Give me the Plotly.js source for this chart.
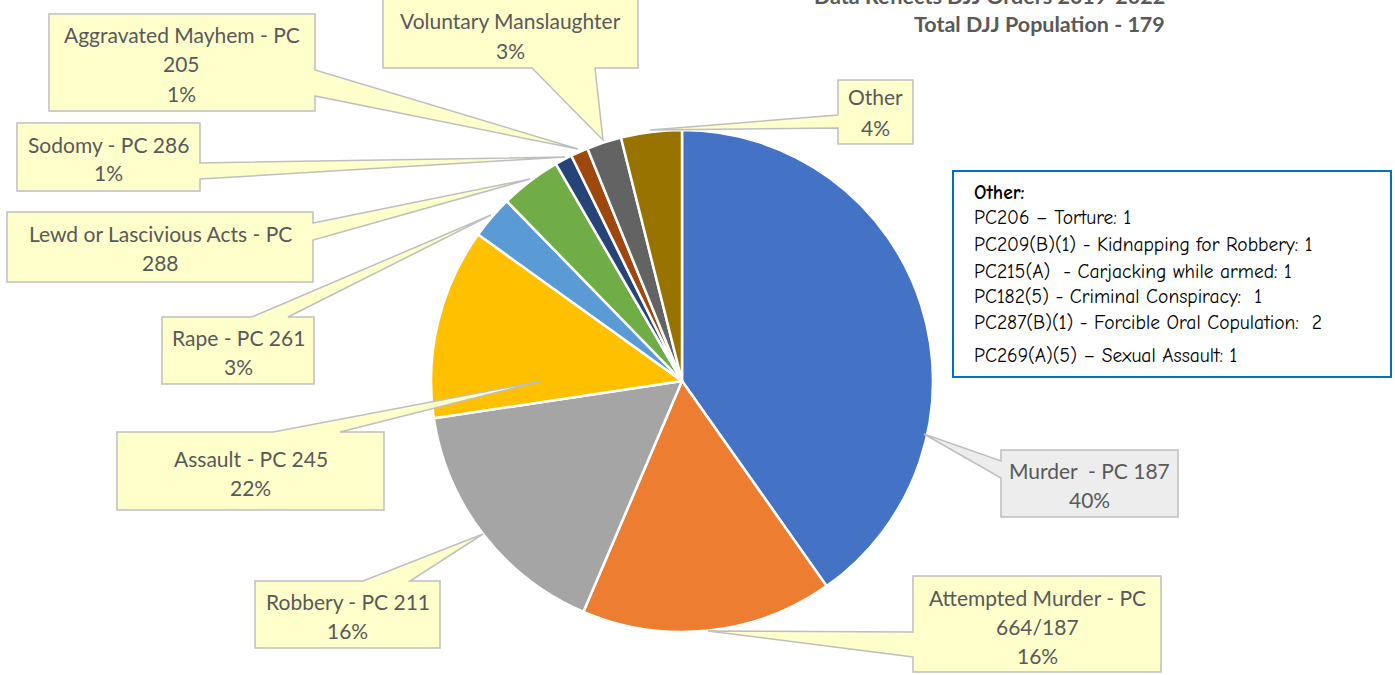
<!DOCTYPE html>
<html>
<head>
<meta charset="utf-8">
<script src="https://cdn.plot.ly/plotly-3.0.1.min.js"></script>
<style>html,body{margin:0;padding:0;background:#fff;}#chart{width:1395px;height:675px;}</style>
</head>
<body>
<div id="chart"></div>
<script>
// ---- data ----
const categories = ["Murder - PC 187", "Attempted Murder - PC 664/187", "Robbery - PC 211", "Assault - PC 245",
  "Rape - PC 261", "Lewd or Lascivious Acts - PC 288", "Sodomy - PC 286", "Aggravated Mayhem - PC 205",
  "Voluntary Manslaughter", "Other"];
const counts = [72, 29, 29, 22, 5, 7, 2, 2, 4, 7];
const sliceColors = ["#4472C4", "#ED7D31", "#A5A5A5", "#FFC000", "#5B9BD5", "#70AD47", "#264478", "#9E480E", "#636363", "#997300"];
const labelLines = [
  ["Murder  - PC 187", "40%"],
  ["Attempted Murder - PC", "664/187", "16%"],
  ["Robbery - PC 211", "16%"],
  ["Assault - PC 245", "22%"],
  ["Rape - PC 261", "3%"],
  ["Lewd or Lascivious Acts - PC", "288"],
  ["Sodomy - PC 286", "1%"],
  ["Aggravated Mayhem - PC", "205", "1%"],
  ["Voluntary Manslaughter", "3%"],
  ["Other", "4%"]
];
const titleLines = ["Data Reflects DJJ Orders 2019-2022", "Total DJJ Population - 179"];
const otherTitle = "Other:";
const otherItems = [
  "PC206 \u2013 Torture: 1",
  "PC209(B)(1) - Kidnapping for Robbery: 1",
  "PC215(A)  - Carjacking while armed: 1",
  "PC182(5) - Criminal Conspiracy:  1",
  "PC287(B)(1) - Forcible Oral Copulation:  2",
  "PC269(A)(5) \u2013 Sexual Assault: 1"
];

// ---- layout helpers (pixel -> paper) ----
const W = 1395, H = 675;
const px = x => x / W;
const py = y => 1 - y / H;
const cx = 682, cy = 381, R = 251;

// callout geometry (layout only)
const callouts = [
  {box:[1001,450,1178,517], side:"left",  base:[461,478], tip:[924,434], fill:"#EDEDED", ys:[470,499]},
  {box:[913,576,1161,672],  side:"left",  base:[632,657], tip:[708,631], fill:"#FFFFCC", ys:[597,626,655]},
  {box:[255,581,440,648],   side:"top",   base:[363,410], tip:[483,534], fill:"#FFFFCC", ys:[601,630]},
  {box:[117,432,384,510],   side:"top",   base:[273,340], tip:[542,381], fill:"#FFFFCC", ys:[458,487]},
  {box:[162,317,314,384],   side:"top",   base:[252,288], tip:[491,215], fill:"#FFFFCC", ys:[337,366]},
  {box:[7,212,313,282],     side:"right", base:[223,240], tip:[530,179], fill:"#FFFFCC", ys:[233,262]},
  {box:[17,123,200,191],    side:"right", base:[163,179], tip:[565,157], fill:"#FFFFCC", ys:[144,172]},
  {box:[49,14,315,111],     side:"right", base:[70,96],   tip:[578,149], fill:"#FFFFCC", ys:[35,64,93]},
  {box:[383,-1,638,68],     side:"bottom",base:[532,595], tip:[603,140], fill:"#FFFFCC", ys:[21,50]},
  {box:[838,80,913,144],    side:"left",  base:[115,128], tip:[650,130], fill:"#FFFFCC", ys:[97,127]}
];

function calloutPath(c) {
  const [x0,y0,x1,y1] = c.box, [b0,b1] = c.base, [tx,ty] = c.tip;
  let pts;
  if (c.side === "right") pts = [[x0,y0],[x1,y0],[x1,b0],[tx,ty],[x1,b1],[x1,y1],[x0,y1]];
  else if (c.side === "left") pts = [[x0,y0],[x1,y0],[x1,y1],[x0,y1],[x0,b1],[tx,ty],[x0,b0]];
  else if (c.side === "top") pts = [[x0,y0],[b0,y0],[tx,ty],[b1,y0],[x1,y0],[x1,y1],[x0,y1]];
  else pts = [[x0,y0],[x1,y0],[x1,y1],[b1,y1],[tx,ty],[b0,y1],[x0,y1]];
  return pts.map((p,i) => (i ? "L" : "M") + px(p[0]).toFixed(5) + "," + py(p[1]).toFixed(5)).join(" ") + " Z";
}

const shapes = [];
const annotations = [];
const labelFont = {family: "Lato, 'Liberation Sans', sans-serif", size: 21, color: "#595959"};

callouts.forEach((c, i) => {
  shapes.push({type:"path", xref:"paper", yref:"paper", path: calloutPath(c), fillcolor:c.fill,
    line:{color:"#BFBFBF", width:1.5}, layer:"above"});
  const mx = (c.box[0] + c.box[2]) / 2;
  labelLines[i].forEach((t, k) => {
    annotations.push({xref:"paper", yref:"paper", x:px(mx), y:py(c.ys[k]), text:t, showarrow:false,
      xanchor:"center", yanchor:"middle", font:labelFont});
  });
});

// title lines
const titleYs = [-4, 24];
titleLines.forEach((t, k) => {
  annotations.push({xref:"paper", yref:"paper", x:px(1167), y:py(titleYs[k]), text:"<b>"+t+"</b>", showarrow:false,
    xanchor:"right", yanchor:"middle", font:{family:"Lato, sans-serif", size:21.5, color:"#595959"}});
});

// "Other" breakdown box
shapes.push({type:"rect", xref:"paper", yref:"paper", x0:px(953), x1:px(1391), y0:py(171), y1:py(377),
  fillcolor:"#FFFFFF", line:{color:"#0070C0", width:2}, layer:"above"});
const boxFont = {family:"'Comic Sans MS', 'Comic Neue', Lato, sans-serif", size:19.5, color:"#000000"};
annotations.push({xref:"paper", yref:"paper", x:px(972), y:py(192), text:"<b>"+otherTitle+"</b>", showarrow:false,
  xanchor:"left", yanchor:"middle", font:boxFont});
const otherYs = [218, 245, 271, 296, 322, 355];
otherItems.forEach((t, k) => {
  annotations.push({xref:"paper", yref:"paper", x:px(972), y:py(otherYs[k]), text:t, showarrow:false,
    xanchor:"left", yanchor:"middle", font:boxFont});
});

const trace = {
  type: "pie",
  labels: categories,
  values: counts,
  sort: false,
  direction: "clockwise",
  rotation: 0,
  textinfo: "none",
  hoverinfo: "label+value+percent",
  marker: {colors: sliceColors, line: {color: "#FFFFFF", width: 2.5}},
  domain: {x: [px(cx - R), px(cx + R)], y: [py(cy + R), py(cy - R)]},
  automargin: false
};

const layout = {
  width: W, height: H,
  margin: {l:0, r:0, t:0, b:0},
  paper_bgcolor: "#FFFFFF",
  showlegend: false,
  shapes: shapes,
  annotations: annotations
};

Plotly.newPlot("chart", [trace], layout, {displayModeBar:false, staticPlot:true});
</script>
</body>
</html>
